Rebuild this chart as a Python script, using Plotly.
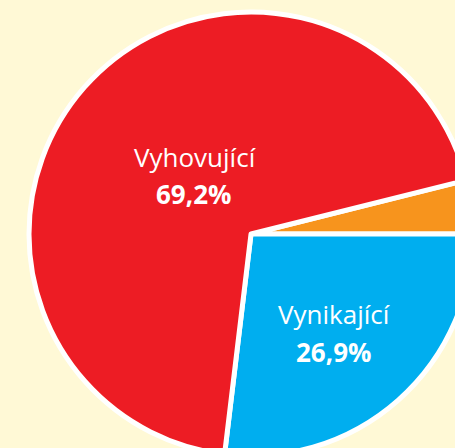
import plotly.graph_objects as go

# Data
categories = ["Nevyhovující", "Vynikající", "Vyhovující"]
shares = [3.9, 26.9, 69.2]
colors = ["#F7941D", "#00AEEF", "#ED1C24"]
shown_labels = ["Vyhovující", "Vynikající"]

W, H = 480, 460
cx, cy, r = 251, 234, 222

fig = go.Figure(go.Pie(
    labels=categories,
    values=shares,
    sort=False,
    direction="clockwise",
    rotation=90 - shares[0] * 3.6,
    marker=dict(colors=colors, line=dict(color="white", width=5)),
    textinfo="none",
    hoverinfo="skip",
    showlegend=False,
    domain=dict(x=[(cx - r) / W, (cx + r) / W], y=[(H - cy - r) / H, (H - cy + r) / H]),
))

def fmt(v):
    return f"{v:.1f}".replace(".", ",") + "%"

# label positions in pixels: (name line center, value line center)
label_pos = {
    "Vyhovující": ((195, 157), (193, 194)),
    "Vynikající": ((334, 314), (333, 352)),
}
ann = []
for name in shown_labels:
    v = shares[categories.index(name)]
    (x1, y1), (x2, y2) = label_pos[name]
    ann.append(dict(text=name, x=x1 / W, y=(H - y1) / H, xref="paper", yref="paper",
                    showarrow=False, xanchor="center", yanchor="middle",
                    font=dict(family="Open Sans", size=26, color="white")))
    ann.append(dict(text=f"<b>{fmt(v)}</b>", x=x2 / W, y=(H - y2) / H, xref="paper", yref="paper",
                    showarrow=False, xanchor="center", yanchor="middle",
                    font=dict(family="Open Sans", size=26, color="white")))

fig.update_layout(
    width=W, height=H,
    margin=dict(l=0, r=0, t=0, b=0),
    paper_bgcolor="#FFF9D6",
    plot_bgcolor="#FFF9D6",
    annotations=ann,
)

fig.write_html("out.html", config={"displayModeBar": False},
               post_script="document.body.style.margin='0';document.body.style.overflow='hidden';document.documentElement.style.overflow='hidden';document.body.style.background='#FFF9D6';")
